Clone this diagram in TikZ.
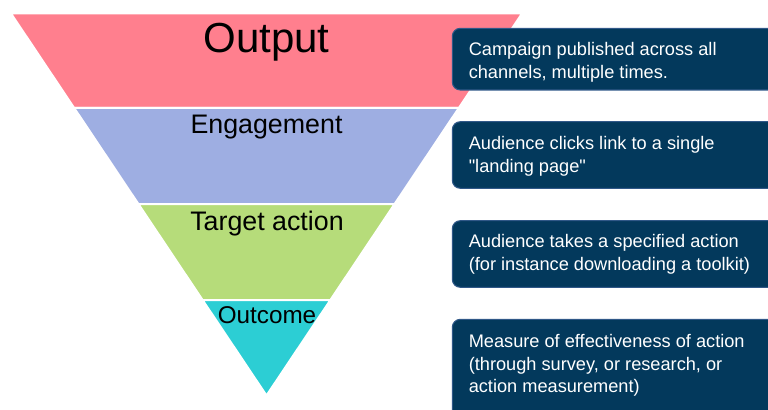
\documentclass[tikz,border=0pt]{standalone}
\usepackage{fontspec}
\setmainfont{Liberation Sans}
% same face without the TeX input mapping, so " stays a straight quote
\newfontfamily\plainsans{Liberation Sans}
\begin{document}
\begin{tikzpicture}[x=0.75pt,y=-0.75pt]
  \definecolor{bandpink}{RGB}{255,127,142}
  \definecolor{bandblue}{RGB}{158,174,226}
  \definecolor{bandgreen}{RGB}{182,220,122}
  \definecolor{bandcyan}{RGB}{44,206,212}
  \definecolor{navy}{RGB}{3,57,92}
  \definecolor{navyedge}{RGB}{48,88,136}
  \tikzset{
    band/.style={draw=white, line width=1.5pt, line join=miter},
    stage/.style={inner sep=0pt, anchor=base, text=black},
    infobox/.style={fill=navy, draw=navyedge, line width=0.8pt, rounded corners=6pt},
    infotext/.style={inner sep=0pt, anchor=north west, align=left, text=white,
      font=\plainsans\fontsize{13.65}{16.85}\selectfont}
  }
  \useasboundingbox (0,0) rectangle (768,410);
  \clip (0,0) rectangle (768,410);

  % funnel bands, top to bottom
  \path[band, fill=bandpink]  (11,13.5) -- (522,13.5) -- (458.8,108) -- (74.2,108) -- cycle;
  \path[band, fill=bandblue]  (74.2,108) -- (458.8,108) -- (394.6,204) -- (138.4,204) -- cycle;
  \path[band, fill=bandgreen] (138.4,204) -- (394.6,204) -- (330.4,300) -- (202.6,300) -- cycle;
  \path[band, fill=bandcyan]  (202.6,300) -- (330.4,300) -- (266.5,395.5) -- cycle;

  % stage labels
  \node[stage, font=\fontsize{31.5}{36}\selectfont] (output) at (266.5,53) {Output};
  \node[stage, font=\fontsize{20.1}{24}\selectfont] (engage) at (266.5,133.5) {Engagement};
  \node[stage, font=\fontsize{20.1}{24}\selectfont] (target) at (267,230.7) {Target action};
  \node[stage, font=\fontsize{18.2}{22}\selectfont] (outcome) at (267,323.3) {Outcome};

  % description boxes
  \draw[infobox] (452.3,28.3) rectangle (800,90);
  \draw[infobox] (452.3,121.7) rectangle (800,188.3);
  \draw[infobox] (452.3,220.7) rectangle (800,287.3);
  \draw[infobox] (452.3,319.3) rectangle (800,440);

  \node[infotext] (d1) at ([yshift=10pt]468.5,55.3)
    {\rule{0pt}{10pt}Campaign published across all\\channels, multiple times.};
  \node[infotext] (d2) at ([yshift=10pt]468.5,149.3)
    {\rule{0pt}{10pt}Audience clicks link to a single\\"landing page"};
  \node[infotext] (d3) at ([yshift=10pt]468.5,247.7)
    {\rule{0pt}{10pt}Audience takes a specified action\\(for instance downloading a toolkit)};
  \node[infotext] (d4) at ([yshift=10pt]468.5,347.3)
    {\rule{0pt}{10pt}Measure of effectiveness of action\\(through survey, or research, or\\action measurement)};
\end{tikzpicture}
\end{document}
